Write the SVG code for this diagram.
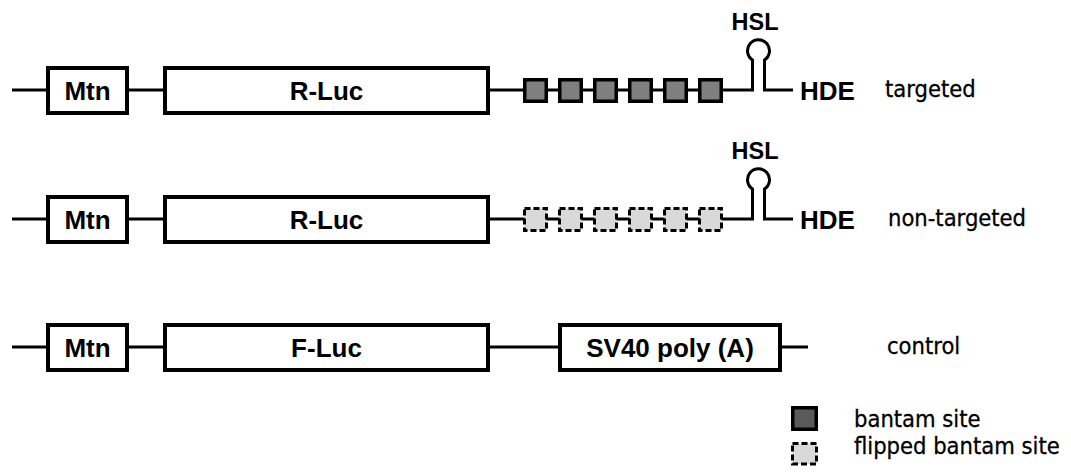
<svg xmlns="http://www.w3.org/2000/svg" width="1071" height="472" viewBox="0 0 1071 472">
<style>
.ln{fill:none;stroke:#000;stroke-width:3}
.box{fill:#fff;stroke:#000;stroke-width:4}
.site{fill:#7f7f7f;stroke:#000;stroke-width:3.5}
.flip{fill:#d9d9d9;stroke:#000;stroke-width:3;stroke-dasharray:6 3}
.b{font-family:"Liberation Sans",Arial,sans-serif;font-weight:bold;font-size:26px;text-anchor:middle;fill:#000}
.hsl{font-family:"Liberation Sans",Arial,sans-serif;font-weight:bold;font-size:23.5px;text-anchor:middle;fill:#000}
.r{font-family:"DejaVu Sans Condensed","DejaVu Sans",sans-serif;font-stretch:condensed;font-size:23.5px;fill:#000;stroke:#000;stroke-width:0.3}
</style>
<rect width="1071" height="472" fill="#fff"/>
<g id="connectors">
<path class="ln" d="M12 90 H752.5 V60 A11 11 0 1 1 764.5 60 V90 H793"/>
<path class="ln" d="M12 219 H752.5 V189 A11 11 0 1 1 764.5 189 V219 H793"/>
<path class="ln" d="M12 347 H808"/>
</g>
<g id="row1-mtn"><rect class="box" x="48" y="68" width="79" height="45"/><text class="b" x="87.5" y="99.5">Mtn</text></g>
<g id="row1-rluc"><rect class="box" x="165" y="68" width="323" height="45"/><text class="b" x="326.5" y="99.5">R-Luc</text></g>
<g id="row1-sites">
<rect class="site" x="524.75" y="79.75" width="21.5" height="21.5"/>
<rect class="site" x="559.75" y="79.75" width="21.5" height="21.5"/>
<rect class="site" x="594.75" y="79.75" width="21.5" height="21.5"/>
<rect class="site" x="629.75" y="79.75" width="21.5" height="21.5"/>
<rect class="site" x="664.75" y="79.75" width="21.5" height="21.5"/>
<rect class="site" x="699.75" y="79.75" width="21.5" height="21.5"/>
</g>
<g id="row1-hsl"><text class="hsl" x="755" y="30">HSL</text></g>
<g id="row1-hde"><text class="b" x="827.5" y="100">HDE</text></g>
<g id="row1-label"><text class="r" x="885" y="97">targeted</text></g>

<g id="row2-mtn"><rect class="box" x="48" y="197" width="79" height="45"/><text class="b" x="87.5" y="228.5">Mtn</text></g>
<g id="row2-rluc"><rect class="box" x="165" y="197" width="323" height="45"/><text class="b" x="326.5" y="228.5">R-Luc</text></g>
<g id="row2-sites">
<rect class="flip" x="524.5" y="208.5" width="22" height="22"/>
<rect class="flip" x="559.5" y="208.5" width="22" height="22"/>
<rect class="flip" x="594.5" y="208.5" width="22" height="22"/>
<rect class="flip" x="629.5" y="208.5" width="22" height="22"/>
<rect class="flip" x="664.5" y="208.5" width="22" height="22"/>
<rect class="flip" x="699.5" y="208.5" width="22" height="22"/>
</g>
<g id="row2-hsl"><text class="hsl" x="755" y="159">HSL</text></g>
<g id="row2-hde"><text class="b" x="827.5" y="229">HDE</text></g>
<g id="row2-label"><text class="r" x="888" y="226">non-targeted</text></g>

<g id="row3-mtn"><rect class="box" x="48" y="325" width="79" height="45"/><text class="b" x="87.5" y="356.5">Mtn</text></g>
<g id="row3-fluc"><rect class="box" x="165" y="325" width="323" height="45"/><text class="b" x="326.5" y="356.5">F-Luc</text></g>
<g id="row3-sv40"><rect class="box" x="560" y="325" width="220" height="45"/><text class="b" x="670" y="356.5">SV40 poly (A)</text></g>
<g id="row3-label"><text class="r" x="887" y="354">control</text></g>

<g id="legend-site"><rect x="792.75" y="407.75" width="23.5" height="21.5" fill="#5a5a5a" stroke="#000" stroke-width="3.5"/><text class="r" x="854" y="427">bantam site</text></g>
<g id="legend-flip"><rect class="flip" x="792.5" y="443.5" width="24" height="20.5"/><text class="r" x="854" y="454">flipped bantam site</text></g>
</svg>
